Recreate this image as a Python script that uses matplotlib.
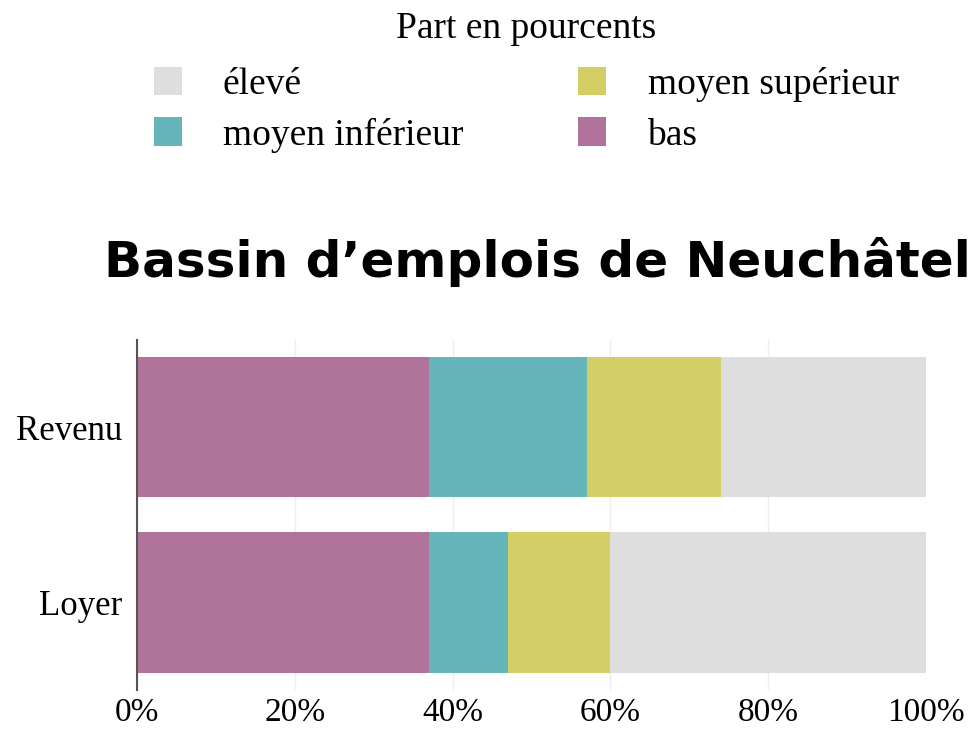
import numpy as np
import matplotlib.pyplot as plt
from matplotlib.patches import Patch

# data
categories = ['Loyer', 'Revenu']
series = ['bas', 'moyen inférieur', 'moyen supérieur', 'élevé']
values = {
    'bas':             [37, 37],
    'moyen inférieur': [10, 20],
    'moyen supérieur': [13, 17],
    'élevé':           [40, 26],
}
colors = {
    'bas': '#b07399',
    'moyen inférieur': '#66b5bb',
    'moyen supérieur': '#d3cf66',
    'élevé': '#dedede',
}
xticks = [0, 20, 40, 60, 80, 100]
xticklabels = ['0%', '20%', '40%', '60%', '80%', '100%']

serif = 'Liberation Serif'

fig = plt.figure(figsize=(9.76, 7.31), dpi=100)
ax = fig.add_axes([0.1404, 0.056, 0.8084, 0.479])

y = np.arange(len(categories))
left = np.zeros(len(categories))
for s in series:
    v = np.array(values[s], dtype=float)
    ax.barh(y, v, left=left, height=0.8, color=colors[s], zorder=2)
    left += v

ax.set_xlim(0, 100)
ax.set_ylim(-0.5, 1.5)
ax.set_xticks(xticks)
ax.set_xticklabels(xticklabels, fontfamily=serif, fontsize=24)
ax.set_yticks(y)
ax.set_yticklabels(categories, fontfamily=serif, fontsize=25)
ax.tick_params(axis='y', length=0, pad=11)
ax.tick_params(axis='x', length=0, pad=5)
ax.grid(axis='x', color='#eeeeee', linewidth=1, zorder=1)
for sp in ['top', 'right', 'bottom']:
    ax.spines[sp].set_visible(False)
ax.spines['left'].set_color('#555555')
ax.spines['left'].set_linewidth(1.5)

fig.text(0.551, 0.642, 'Bassin d\u2019emplois de Neuchâtel', ha='center', va='center',
         fontsize=36, fontweight='bold', fontfamily='DejaVu Sans')

order = ['élevé', 'moyen inférieur', 'moyen supérieur', 'bas']
handles = [Patch(facecolor=colors[s], edgecolor='none', label=s) for s in order]
leg = fig.legend(handles=handles, ncol=2, loc='upper center', bbox_to_anchor=(0.539, 0.992),
                 frameon=False, title='Part en pourcents', borderaxespad=0, borderpad=0.15,
                 prop={'family': serif, 'size': 27}, handlelength=0.75, handleheight=0.8,
                 handletextpad=1.1, columnspacing=3.06, labelspacing=0.4)
leg.get_title().set_fontfamily(serif)
leg.get_title().set_fontsize(27)
leg._legend_box.sep = 15

fig.savefig('out.png', dpi=100)
